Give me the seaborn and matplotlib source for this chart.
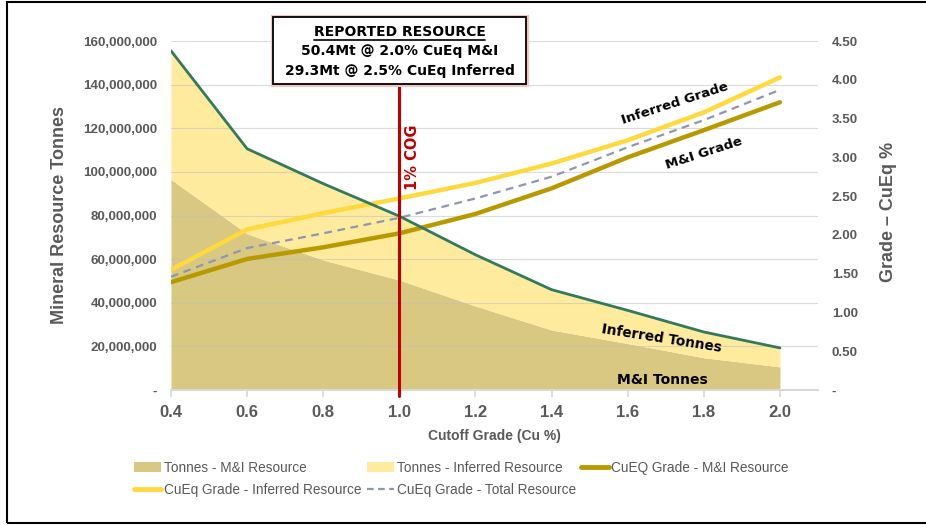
"""Grade-tonnage curve: mineral resource tonnes and CuEq grade vs cutoff."""

import matplotlib

matplotlib.use("Agg")
import matplotlib.pyplot as plt
import pandas as pd
import seaborn as sns
from matplotlib.lines import Line2D
from matplotlib.patches import Patch, Rectangle
from matplotlib.ticker import FuncFormatter, MultipleLocator

# values (tonnes in Mt, grades in % CuEq)
CUTOFF = [0.4, 0.6, 0.8, 1.0, 1.2, 1.4, 1.6, 1.8, 2.0]
TONNES_MI = [96.5, 71.6, 59.6, 50.4, 38.5, 27.5, 21.3, 14.8, 10.6]
TONNES_INF = [59.0, 39.0, 35.0, 29.3, 23.5, 18.5, 15.2, 11.8, 8.7]
GRADE_MI = [1.39, 1.69, 1.84, 2.02, 2.27, 2.60, 3.00, 3.35, 3.71]
GRADE_INF = [1.55, 2.07, 2.28, 2.47, 2.67, 2.92, 3.22, 3.58, 4.03]
GRADE_TOTAL = [1.46, 1.83, 2.02, 2.22, 2.47, 2.75, 3.13, 3.48, 3.87]
REPORTED_CUTOFF = 1.0

BOX_LINES = [
    "REPORTED RESOURCE",
    "50.4Mt @ 2.0% CuEq M&I",
    "29.3Mt @ 2.5% CuEq Inferred",
]

MI_AREA = "#D8C882"
INF_AREA = "#FEEB9E"
GREEN = "#337A5B"
MI_LINE = "#B89A00"
INF_LINE = "#FFD93D"
TOTAL_LINE = "#8E97AD"
RED = "#C00000"
GREY = "#595959"

sns.set_theme(style="white")
plt.rcParams["font.family"] = ["Liberation Sans", "DejaVu Sans"]

df = pd.DataFrame(
    {
        "cutoff": CUTOFF,
        "mi_t": [v * 1e6 for v in TONNES_MI],
        "inf_t": [v * 1e6 for v in TONNES_INF],
        "mi_g": GRADE_MI,
        "inf_g": GRADE_INF,
        "tot_g": GRADE_TOTAL,
    }
)
df["total_t"] = df["mi_t"] + df["inf_t"]

fig = plt.figure(figsize=(9.26, 5.25), dpi=100)
ax = fig.add_axes([171 / 926, 1 - 390 / 525, 647 / 926, 349 / 525])
ax2 = ax.twinx()

# stacked tonnage areas
ax.fill_between(df["cutoff"], 0, df["mi_t"], color=MI_AREA, lw=0, zorder=1)
ax.fill_between(df["cutoff"], df["mi_t"], df["total_t"], color=INF_AREA, lw=0, zorder=1)

ax.set_xlim(0.4, 2.1)
ax.set_ylim(0, 160e6)

# grade curves on the secondary axis
sns.lineplot(data=df, x="cutoff", y="tot_g", ax=ax2, color=TOTAL_LINE, lw=1.6,
             linestyle=(0, (3.5, 2.5)), zorder=3)
sns.lineplot(data=df, x="cutoff", y="mi_g", ax=ax2, color=MI_LINE, lw=3.2, zorder=3)
sns.lineplot(data=df, x="cutoff", y="inf_g", ax=ax2, color=INF_LINE, lw=3.2, zorder=3)
# total tonnes outline drawn on top, in left-axis units
sns.lineplot(data=df, x="cutoff", y="total_t", ax=ax2, color=GREEN, lw=2,
             transform=ax.transData, zorder=4)
ax2.set_ylim(0, 4.5)
ax2.set_xlim(0.4, 2.1)

# cutoff marker
ax2.axvline(REPORTED_CUTOFF, ymin=-0.017, ymax=(390 - 84) / 349, color=RED, lw=2.2,
            clip_on=False, zorder=5)
ax2.text(REPORTED_CUTOFF + 0.035, 3.0, "1% COG", rotation=90, color=RED,
         fontsize=10.5, fontweight="bold", ha="center", va="center",
         family=["DejaVu Sans"], zorder=6)

# curve labels
label_kw = dict(fontweight="bold", color="black", ha="center", va="center",
                family=["DejaVu Sans"], zorder=6)
ax2.text(1.725, 3.70, "Inferred Grade", rotation=18, fontsize=9.6, **label_kw)
ax2.text(1.80, 3.05, "M&I Grade", rotation=18, fontsize=9.6, **label_kw)
ax2.text(1.69, 0.66, "Inferred Tonnes", rotation=-9, fontsize=9.8, **label_kw)
ax2.text(1.69, 0.13, "M&I Tonnes", rotation=0, fontsize=10, **label_kw)

# axes styling
ax.set_xticks(CUTOFF)
ax.xaxis.set_major_formatter(FuncFormatter(lambda v, _: f"{v:.1f}"))
ax.yaxis.set_major_locator(MultipleLocator(20e6))
ax.yaxis.set_major_formatter(FuncFormatter(lambda v, _: "-" if v == 0 else f"{v:,.0f}"))
ax2.yaxis.set_major_locator(MultipleLocator(0.5))
ax2.yaxis.set_major_formatter(FuncFormatter(lambda v, _: "-" if v == 0 else f"{v:.2f}"))

ax.grid(axis="y", color="#BFBFBF", alpha=0.55, lw=0.8)
ax.set_axisbelow(False)
for a in (ax, ax2):
    for side in ("top", "left", "right"):
        a.spines[side].set_visible(False)
    a.spines["bottom"].set_color("#D9D9D9")
    a.grid(axis="x", visible=False)
ax2.grid(False)

ax.tick_params(axis="x", bottom=True, length=5, color="#D9D9D9", labelsize=12,
               labelcolor=GREY, pad=6)
ax.tick_params(axis="y", left=False, labelsize=9.6, labelcolor=GREY, pad=4)
ax2.tick_params(axis="y", right=False, labelsize=9.6, labelcolor=GREY, pad=4)
for lbl in ax.get_xticklabels() + ax.get_yticklabels() + ax2.get_yticklabels():
    lbl.set_fontweight("bold")

ax.set_xlabel("Cutoff Grade (Cu %)", fontsize=10, fontweight="bold", color=GREY)
ax.xaxis.set_label_coords(0.5, -0.112)
ax.set_ylabel("Mineral Resource Tonnes", fontsize=13, fontweight="bold", color=GREY)
ax.yaxis.set_label_coords(-0.159, 0.5)
ax2.set_ylabel("Grade \u2013 CuEq %", fontsize=13, fontweight="bold", color=GREY)
ax2.yaxis.set_label_coords(1.096, 0.51)

# legend (column-major order so rows read like the original)
handles = [
    Patch(facecolor=MI_AREA, edgecolor="none", label="Tonnes - M&I Resource"),
    Line2D([], [], color=INF_LINE, lw=3.5, label="CuEq Grade - Inferred Resource"),
    Patch(facecolor=INF_AREA, edgecolor="none", label="Tonnes - Inferred Resource"),
    Line2D([], [], color=TOTAL_LINE, lw=1.6, linestyle=(0, (3, 2)),
           label="CuEq Grade - Total Resource"),
    Line2D([], [], color=MI_LINE, lw=3.5, label="CuEQ Grade - M&I Resource"),
]
leg = fig.legend(handles=handles, loc="upper left", bbox_to_anchor=(134 / 926, 1 - 461 / 525),
                 ncol=3, frameon=False, fontsize=9.8, handlelength=2.0, handleheight=0.7,
                 handletextpad=0.2, columnspacing=0.4, labelspacing=0.6,
                 borderaxespad=0, borderpad=0)
for t in leg.get_texts():
    t.set_color(GREY)

# reported resource call-out box
bx0, by0, bx1, by1 = 273, 17, 526, 84
fig.add_artist(Rectangle((bx0 / 926 - 0.002, 1 - by1 / 525 - 0.006),
                         (bx1 - bx0) / 926 + 0.005, (by1 - by0) / 525 + 0.01,
                         transform=fig.transFigure, facecolor="#F3C3C3",
                         edgecolor="none", zorder=9))
fig.add_artist(Rectangle((bx0 / 926, 1 - by1 / 525), (bx1 - bx0) / 926, (by1 - by0) / 525,
                         transform=fig.transFigure, facecolor="white",
                         edgecolor="black", lw=1.3, zorder=10))
box_texts = []
for line, ypix in zip(BOX_LINES, [32, 51, 71]):
    box_texts.append(fig.text((bx0 + bx1) / 2 / 926, 1 - ypix / 525, line, ha="center",
                              va="center", fontsize=10, fontweight="bold", color="black",
                              family=["DejaVu Sans"], zorder=11))

# underline the heading
fig.canvas.draw()
bb = box_texts[0].get_window_extent()
inv = fig.transFigure.inverted()
(ux0, uy), (ux1, _) = inv.transform([(bb.x0, bb.y0), (bb.x1, bb.y0)])
fig.add_artist(Line2D([ux0, ux1], [uy - 0.002, uy - 0.002], transform=fig.transFigure,
                      color="black", lw=1.2, zorder=11))

# outer frame
fig.add_artist(Rectangle((7 / 926, 2 / 525), 1.0, 1 - 4 / 525, transform=fig.transFigure,
                         facecolor="none", edgecolor="black", lw=1.5, zorder=20))

fig.savefig("out.png", dpi=100)
plt.close(fig)
